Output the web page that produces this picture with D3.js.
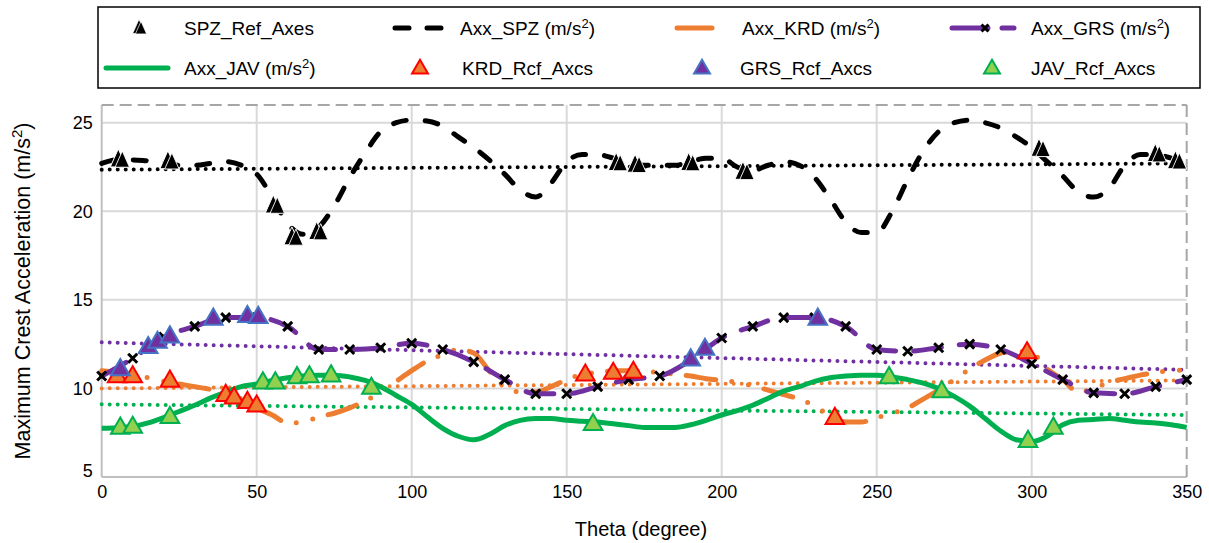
<!DOCTYPE html>
<html lang="en">
<head>
	<meta charset="UTF-8">
	<title>Maximum Crest Acceleration</title>
	<script src="https://d3js.org/d3.v7.min.js"></script>
	<style>
		html, body {
			margin: 0;
			padding: 0;
			background: #fff;
		}
		body {
			width: 1209px;
			height: 543px;
			overflow: hidden;
			font-family: 'Liberation Sans', Arial, sans-serif;
		}
		.tick text {
			font-family: 'Liberation Sans', Arial, sans-serif;
			font-size: 18px;
			fill: #000;
		}
		.legText {
			font-size: 19px;
			fill: #000;
		}
	</style>
</head>
<body>
<div id="chart"></div>
<script>

// ---------- data ----------
var theta5 = [0,5,10,15,20,25,30,35,40,45,50,55,60,65,70,75,80,85,90,95,100,105,110,115,120,125,130,135,140,145,150,155,160,165,170,175,
	180,185,190,195,200,205,210,215,220,225,230,235,240,245,250,255,260,265,270,275,280,285,290,295,300,305,310,315,320,325,330,335,340,345,350];
var theta10 = [0,10,20,30,40,50,60,70,80,90,100,110,120,130,140,150,160,170,180,190,200,210,220,230,240,250,260,270,280,290,300,310,320,330,340,350];

var axxSPZ = [22.7,22.9,22.9,22.85,22.8,22.6,22.6,22.7,22.8,22.6,22.1,20.8,19.3,18.7,19.1,20.3,21.9,23.3,24.5,25.0,25.15,25.1,24.8,24.2,23.6,22.9,22.1,21.2,20.8,21.6,22.8,23.2,23.2,23.0,22.8,22.6,
	22.6,22.6,22.8,23.0,23.0,22.5,22.3,22.6,22.8,22.6,21.9,20.7,19.4,18.8,18.8,20.0,21.8,23.4,24.5,25.0,25.15,25.0,24.7,24.2,23.6,22.8,22.0,21.1,20.8,21.3,22.6,23.2,23.2,23.0,22.8];

var axxKRD = [11.0,10.9,10.8,10.6,10.4,10.25,10.1,9.95,9.8,9.4,8.9,8.5,8.05,8.1,8.4,8.6,8.9,9.3,9.8,10.4,11.0,11.55,11.9,12.2,12.0,11.0,10.1,9.8,9.8,10.1,10.5,10.8,10.9,11.0,11.0,10.95,
	10.9,10.8,10.7,10.55,10.45,10.35,10.15,9.9,9.65,9.4,9.0,8.45,8.1,8.1,8.35,8.6,8.9,9.4,9.9,10.5,11.1,11.6,12.0,12.1,12.0,11.1,10.5,9.8,10.0,10.35,10.55,10.75,10.9,11.0,11.05];

var axxJAV = [7.75,7.78,7.85,8.05,8.35,8.7,9.05,9.45,9.8,10.1,10.25,10.45,10.6,10.7,10.75,10.75,10.65,10.45,10.1,9.6,9.1,8.4,7.75,7.3,7.1,7.4,7.9,8.2,8.3,8.3,8.2,8.15,8.1,8.0,7.9,7.8,
	7.8,7.8,7.95,8.2,8.5,8.75,9.05,9.45,9.85,10.1,10.4,10.6,10.7,10.75,10.75,10.65,10.5,10.3,10.0,9.55,9.0,8.3,7.6,7.1,7.0,7.3,7.95,8.2,8.25,8.3,8.2,8.1,8.05,7.95,7.8];

var axxGRS = [10.7,11.7,12.9,13.5,14.0,14.0,13.5,12.2,12.2,12.3,12.55,12.2,11.5,10.5,9.7,9.7,10.1,10.5,
	10.7,11.6,12.85,13.5,14.0,14.0,13.5,12.2,12.1,12.3,12.5,12.2,11.4,10.5,9.75,9.7,10.1,10.5];

// reference points [theta, value]
var spzRef = [[6,22.9],[22,22.8],[56,20.3],[62,18.5],[70,18.8],[166.6,22.7],[172.7,22.6],[190,22.7],[207.5,22.2],[303,23.5],[340.5,23.2],[347,22.8]];
var krdRef = [[5,10.65],[10,10.65],[22,10.4],[40,9.6],[42.7,9.45],[47,9.2],[50,9.0],[156,10.75],[165,10.85],[171.5,10.9],[236.5,8.3],[298.5,12.0]];
var grsRef = [[6,11.05],[15,12.3],[18,12.6],[22,12.9],[36,13.9],[47,14.05],[50.5,14.0],[190,11.6],[194.6,12.2],[231,13.9]];
var javRef = [[6,7.75],[10,7.8],[22,8.35],[52,10.3],[56,10.3],[63,10.6],[67,10.65],[74,10.7],[87,10.0],[158.5,7.95],[254,10.6],[271,9.8],[298.8,7.0],[307,7.75]];

// trend lines (start, end)
var trendTheta = [0, 350];
var spzTrend = [22.35, 22.7];
var grsTrend = [12.6, 11.05];
var krdTrend = [10.0, 10.45];
var javTrend = [9.1, 8.5];

var xTicks = [0,50,100,150,200,250,300,350];
var yTicks = [5,10,15,20,25];

// ---------- setup ----------
var W = 1209, H = 543;

var svg = d3.select('#chart').append('svg')
	.attr('width', W)
	.attr('height', H);

var x = d3.scaleLinear().domain([0, 350]).range([101.7, 1186.7]);
var y = d3.scaleLinear().domain([5, 26]).range([477, 105]);

var zip = function(xs, ys) { return xs.map(function(t, i) { return [t, ys[i]]; }); };

var line = d3.line()
	.x(function(d) { return x(d[0]); })
	.y(function(d) { return y(d[1]); })
	.curve(d3.curveMonotoneX);

var straight = d3.line()
	.x(function(d) { return x(d[0]); })
	.y(function(d) { return y(d[1]); });

// grid
svg.append('g').selectAll('line')
	.data(xTicks.slice(1, -1))
	.enter().append('line')
	.attr('x1', function(d) { return x(d); })
	.attr('x2', function(d) { return x(d); })
	.attr('y1', y(5)).attr('y2', y(26))
	.attr('stroke', '#d9d9d9').attr('stroke-width', 2);

svg.append('g').selectAll('line')
	.data(yTicks.slice(1))
	.enter().append('line')
	.attr('x1', x(0)).attr('x2', x(350))
	.attr('y1', function(d) { return y(d); })
	.attr('y2', function(d) { return y(d); })
	.attr('stroke', '#d9d9d9').attr('stroke-width', 2);

// frame
svg.append('line').attr('x1', x(0)).attr('x2', x(0)).attr('y1', y(26)).attr('y2', y(5))
	.attr('stroke', '#bfbfbf').attr('stroke-width', 2);
svg.append('line').attr('x1', x(0)).attr('x2', x(350)).attr('y1', y(5)).attr('y2', y(5))
	.attr('stroke', '#bfbfbf').attr('stroke-width', 2);
svg.append('line').attr('x1', x(0)).attr('x2', x(350)).attr('y1', y(26)).attr('y2', y(26))
	.attr('stroke', '#a6a6a6').attr('stroke-width', 2).attr('stroke-dasharray', '12,6');
svg.append('line').attr('x1', x(350)).attr('x2', x(350)).attr('y1', y(26)).attr('y2', y(5))
	.attr('stroke', '#a6a6a6').attr('stroke-width', 2).attr('stroke-dasharray', '12,6');

// axes
var xAxis = svg.append('g')
	.attr('transform', 'translate(0,' + y(5) + ')')
	.call(d3.axisBottom(x).tickValues(xTicks).tickSize(0).tickPadding(8));
xAxis.select('.domain').remove();

var yAxis = svg.append('g')
	.attr('transform', 'translate(' + x(0) + ',0)')
	.call(d3.axisLeft(y).tickValues(yTicks).tickSize(0).tickPadding(9));
yAxis.select('.domain').remove();
yAxis.selectAll('.tick').filter(function(d) { return d === 5; }).select('text').attr('dy', '-0.05em');

svg.append('text')
	.attr('x', 641).attr('y', 536)
	.attr('text-anchor', 'middle')
	.style('font-size', '20px')
	.text('Theta (degree)');

var yLab = svg.append('text')
	.attr('transform', 'translate(30,291) rotate(-90)')
	.attr('text-anchor', 'middle')
	.style('font-size', '21.5px');
yLab.append('tspan').text('Maximum Crest Acceleration (m/s');
yLab.append('tspan').attr('dy', -8).style('font-size', '15px').text('2');
yLab.append('tspan').attr('dy', 8).text(')');

// ---------- trends ----------
var trends = [[spzTrend, '#000'], [grsTrend, '#7030a0'], [krdTrend, '#ed7d31'], [javTrend, '#00b050']];
svg.append('g').selectAll('path')
	.data(trends)
	.enter().append('path')
	.attr('d', function(d) { return straight(zip(trendTheta, d[0])); })
	.attr('fill', 'none')
	.attr('stroke', function(d) { return d[1]; })
	.attr('stroke-width', 4)
	.attr('stroke-linecap', 'round')
	.attr('stroke-dasharray', '0,8');

// ---------- series lines ----------
svg.append('path')
	.attr('d', line(zip(theta5, axxSPZ)))
	.attr('fill', 'none').attr('stroke', '#000').attr('stroke-width', 5)
	.attr('stroke-linecap', 'round').attr('stroke-dasharray', '13,19');

svg.append('path')
	.attr('d', line(zip(theta5, axxKRD)))
	.attr('fill', 'none').attr('stroke', '#ed7d31').attr('stroke-width', 5)
	.attr('stroke-linecap', 'round').attr('stroke-dasharray', '30,16,0,17,0,16');

svg.append('path')
	.attr('d', line(zip(theta10, axxGRS)))
	.attr('fill', 'none').attr('stroke', '#7030a0').attr('stroke-width', 5)
	.attr('stroke-linecap', 'round').attr('stroke-dasharray', '28,18');

svg.append('path')
	.attr('d', line(zip(theta5, axxJAV)))
	.attr('fill', 'none').attr('stroke', '#00b050').attr('stroke-width', 5);

// x markers on GRS
var xMark = 'M-4.5,-4.5L4.5,4.5M-4.5,4.5L4.5,-4.5';
svg.append('g').selectAll('path')
	.data(zip(theta10, axxGRS))
	.enter().append('path')
	.attr('transform', function(d) { return 'translate(' + x(d[0]) + ',' + y(d[1]) + ')'; })
	.attr('d', xMark)
	.attr('stroke', '#000').attr('stroke-width', 3);

// ---------- reference markers ----------
var tri = d3.symbol().type(d3.symbolTriangle).size(150);
var triSmall = d3.symbol().type(d3.symbolTriangle).size(110);
// taller black marker used for the SPZ reference points
var spzTri = 'M0,-11L8,7L-8,7Z';

var spzG = svg.append('g').selectAll('g')
	.data(spzRef)
	.enter().append('g')
	.attr('transform', function(d) { return 'translate(' + x(d[0]) + ',' + y(d[1]) + ')'; });
spzG.append('path').attr('d', spzTri).attr('transform', 'translate(-2,0)')
	.attr('fill', '#000').attr('stroke', '#fff').attr('stroke-width', 1);
spzG.append('path').attr('d', spzTri).attr('transform', 'translate(2,1) scale(0.9)')
	.attr('fill', '#000').attr('stroke', '#fff').attr('stroke-width', 1);

function refMarkers(data, fill, stroke) {
	svg.append('g').selectAll('path')
		.data(data)
		.enter().append('path')
		.attr('transform', function(d) { return 'translate(' + x(d[0]) + ',' + y(d[1]) + ')'; })
		.attr('d', tri())
		.attr('fill', fill)
		.attr('stroke', stroke)
		.attr('stroke-width', 2);
}
refMarkers(krdRef, '#ed7d31', '#ff0000');
refMarkers(grsRef, '#7030a0', '#4472c4');
refMarkers(javRef, '#92d050', '#00b050');

// ---------- legend ----------
var leg = svg.append('g');
leg.append('rect')
	.attr('x', 98).attr('y', 7).attr('width', 1102).attr('height', 81)
	.attr('fill', '#fff').attr('stroke', '#000').attr('stroke-width', 1.5);

function legLabel(tx, ty, label, sup) {
	var t = leg.append('text').attr('class', 'legText').attr('x', tx).attr('y', ty).attr('dy', '0.35em');
	t.append('tspan').text(label);
	if (sup) {
		t.append('tspan').attr('dy', -7).style('font-size', '13px').text('2');
		t.append('tspan').attr('dy', 7).text(')');
	}
}

var r1 = 28, r2 = 68;

// SPZ ref
var lg = leg.append('g').attr('transform', 'translate(140,' + r1 + ')');
lg.append('path').attr('d', spzTri).attr('transform', 'translate(-1,0) scale(0.8)').attr('fill', '#000').attr('stroke', '#fff');
lg.append('path').attr('d', spzTri).attr('transform', 'translate(1,1) scale(0.7)').attr('fill', '#000').attr('stroke', '#fff');
legLabel(184, r1, 'SPZ_Ref_Axes');

// Axx_SPZ
leg.append('line').attr('x1', 395).attr('x2', 445).attr('y1', r1).attr('y2', r1)
	.attr('stroke', '#000').attr('stroke-width', 5).attr('stroke-linecap', 'round').attr('stroke-dasharray', '14,18');
legLabel(460, r1, 'Axx_SPZ (m/s', true);

// Axx_KRD
leg.append('line').attr('x1', 677).attr('x2', 727).attr('y1', r1).attr('y2', r1)
	.attr('stroke', '#ed7d31').attr('stroke-width', 5).attr('stroke-linecap', 'round').attr('stroke-dasharray', '35,15,0,20');
legLabel(742, r1, 'Axx_KRD (m/s', true);

// Axx_GRS
leg.append('line').attr('x1', 952).attr('x2', 1014).attr('y1', r1).attr('y2', r1)
	.attr('stroke', '#7030a0').attr('stroke-width', 5).attr('stroke-linecap', 'round').attr('stroke-dasharray', '36,14');
leg.append('path').attr('transform', 'translate(985,' + r1 + ')').attr('d', 'M-3.5,-3.5L3.5,3.5M-3.5,3.5L3.5,-3.5')
	.attr('stroke', '#000').attr('stroke-width', 3);
legLabel(1031, r1, 'Axx_GRS (m/s', true);

// Axx_JAV
leg.append('line').attr('x1', 106).attr('x2', 168).attr('y1', r2).attr('y2', r2)
	.attr('stroke', '#00b050').attr('stroke-width', 5).attr('stroke-linecap', 'round');
legLabel(184, r2, 'Axx_JAV (m/s', true);

// ref triangles
var legTris = [[420, '#ed7d31', '#ff0000', 462, 'KRD_Rcf_Axcs'], [702, '#7030a0', '#4472c4', 740, 'GRS_Rcf_Axcs'], [992, '#92d050', '#00b050', 1031, 'JAV_Rcf_Axcs']];
legTris.forEach(function(d) {
	leg.append('path').attr('transform', 'translate(' + d[0] + ',' + (r2 + 1) + ')')
		.attr('d', triSmall()).attr('fill', d[1]).attr('stroke', d[2]).attr('stroke-width', 2);
	legLabel(d[3], r2, d[4]);
});

</script>
</body>
</html>
